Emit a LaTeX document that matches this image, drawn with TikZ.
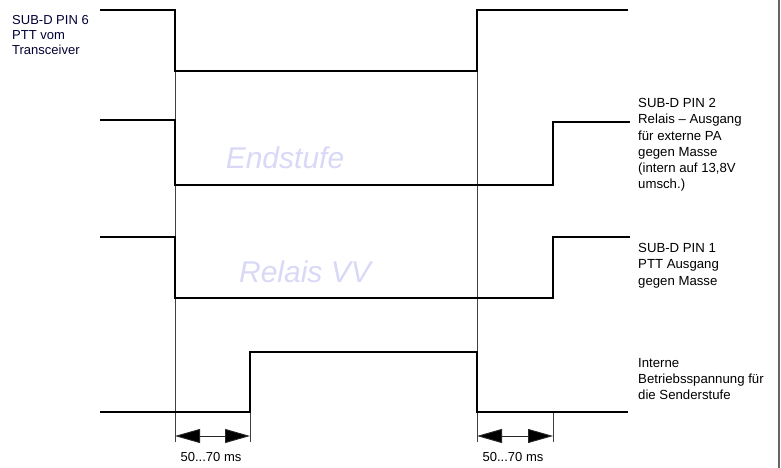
\documentclass[tikz,border=0pt]{standalone}
\usepackage{fontspec}
\setmainfont{Liberation Sans}
\usetikzlibrary{arrows.meta}
\begin{document}
\begin{tikzpicture}[x=1pt,y=-1pt,
  signal/.style={line width=2.6pt,line cap=butt,line join=miter,black},
  guide/.style={line width=0.6pt,black!75},
  dimarrow/.style={line width=0.9pt,black!85,{Triangle[length=25pt,width=14pt,fill=black]}-{Triangle[length=25pt,width=14pt,fill=black]}},
  lbl/.style={anchor=north west,align=left,inner sep=0pt,font=\fontsize{13.2}{16.3}\selectfont},
  lbll/.style={anchor=north west,align=left,inner sep=0pt,text=black!80!blue,font=\fontsize{13}{15}\selectfont},
  dimlbl/.style={inner sep=0pt,font=\fontsize{13}{14}\selectfont},
  hand/.style={inner sep=0pt,text=black!20!blue!15!white,font=\itshape\fontsize{30}{30}\selectfont}]
\useasboundingbox (0,0) rectangle (781,468);
\fill[white] (0,0) rectangle (781,468);
% frame line on the right
\draw[line width=1.6pt,black!60] (779,0) -- (779,468);

% vertical guide lines
\draw[guide] (175,10) -- (175,442);
\draw[guide] (477,71) -- (477,442);
\draw[guide] (250,412) -- (250,442);
\draw[guide] (553,412) -- (553,442);

% signal 1: PTT from transceiver
\draw[signal] (100,10) -- (175,10) -- (175,71) -- (477,71) -- (477,10) -- (628,10);
% signal 2: relay output for external PA
\draw[signal] (100,120) -- (175,120) -- (175,185) -- (553,185) -- (553,122) -- (630,122);
% signal 3: PTT output
\draw[signal] (100,237) -- (175,237) -- (175,298) -- (553,298) -- (553,237) -- (630,237);
% signal 4: internal supply of the transmitter stage
\draw[signal] (100,412) -- (250,412) -- (250,352) -- (477,352) -- (477,412) -- (628,412);

% delay dimensions
\coordinate (d1a) at (175,436);
\coordinate (d1b) at (250,436);
\coordinate (d2a) at (477,436);
\coordinate (d2b) at (553,436);
\draw[dimarrow] (d1a) -- (d1b);
\draw[dimarrow] (d2a) -- (d2b);
\node[dimlbl] (m1) at (211,457) {50...70 ms};
\node[dimlbl] (m2) at (513,457) {50...70 ms};

% signal labels
\node[lbll] (l1) at (12,15) {SUB-D PIN 6\\PTT vom\\Transceiver};
\node[lbl] (l2) at (638,98) {SUB-D PIN 2\\Relais -- Ausgang\\für externe PA\\gegen Masse\\(intern auf 13,8V\\umsch.)};
\node[lbl] (l3) at (638,243) {SUB-D PIN 1\\PTT Ausgang\\gegen Masse};
\node[lbl] (l4) at (638,358) {Interne\\Betriebsspannung für\\die Senderstufe};

% handwritten notes
\node[hand] (h1) at (285,158) {Endstufe};
\node[hand] (h2) at (305,272) {Relais VV};
\end{tikzpicture}
\end{document}
